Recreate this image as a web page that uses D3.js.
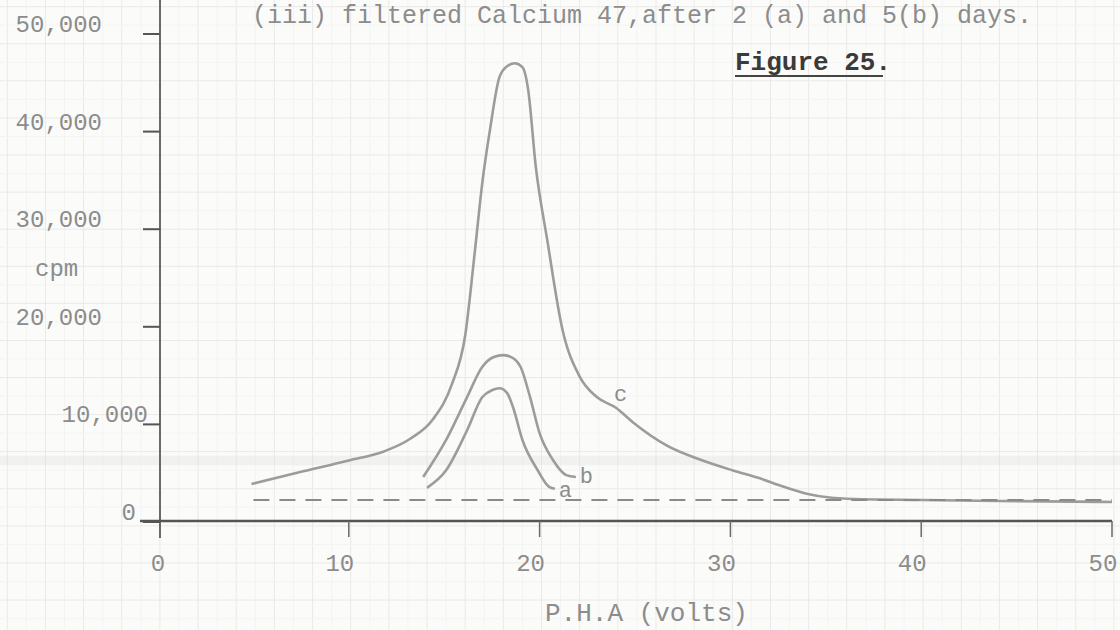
<!DOCTYPE html>
<html>
<head>
<meta charset="utf-8">
<script src="https://cdn.jsdelivr.net/npm/d3@7"></script>
<style>
  body { margin: 0; background: #fbfbfa; }
  svg { display: block; }
  text { font-family: "Liberation Mono", "DejaVu Sans Mono", monospace; fill: #8c8c8c; }
</style>
</head>
<body>
<script>
// values (volts, cpm)
const cVolts = [4.9, 7.4, 10.0, 11.8, 13.2, 14.4, 15.4, 16.1, 16.6, 17.0, 17.4, 17.9, 18.3, 18.7, 19.1, 19.4, 19.8, 20.4, 21.2, 22.1, 23.0, 24.0, 24.9, 26.7, 28.4, 30.1, 31.5, 32.8, 34.0, 35.2, 36.5, 40.0, 44.0, 50.0];
const cCpm   = [3800, 5000, 6200, 7100, 8400, 10400, 14000, 19000, 27500, 34700, 40100, 45500, 46600, 46900, 46500, 44200, 36300, 28800, 19600, 14800, 12700, 11600, 10100, 7700, 6300, 5200, 4400, 3500, 2800, 2400, 2250, 2150, 2050, 1950];

const bVolts = [13.9, 15.1, 16.2, 17.0, 17.6, 18.1, 18.6, 19.0, 19.5, 20.0, 20.7, 21.4, 21.9];
const bCpm   = [4500, 8300, 12700, 15800, 16800, 17000, 16700, 15800, 12700, 9000, 6250, 4700, 4500];

const aVolts = [14.1, 15.1, 16.2, 17.0, 17.5, 17.9, 18.3, 18.6, 19.1, 19.9, 20.5, 20.8];
const aCpm   = [3400, 5200, 9300, 12700, 13400, 13600, 13100, 11700, 8300, 5200, 3500, 3300];

const bgVolts = [5, 50];
const bgCpm = [2150, 2150];

const yTicks = [0, 10000, 20000, 30000, 40000, 50000];
const yTickLabels = ["0", "10,000", "20,000", "30,000", "40,000", "50,000"];
const xTicks = [0, 10, 20, 30, 40, 50];
const xTickLabels = ["0", "10", "20", "30", "40", "50"];

const titleText = "(iii) filtered Calcium 47,after 2 (a) and 5(b) days.";
const figText = "Figure 25.";

const width = 1120, height = 630;
const svg = d3.select("body").append("svg").attr("width", width).attr("height", height);

const x = d3.scaleLinear().domain([0, 50]).range([158, 1112]);
const y = d3.scaleLinear().domain([0, 50000]).range([521, 33]);

// graph paper, faint
const grid = svg.append("g");
const gx = d3.range(-9, 52, 1).map(v => v - 0.9);
const gy = d3.range(-8, 60, 1).map(v => v * 1900 - 500);
grid.selectAll(".vx").data(gx).join("line")
  .attr("x1", d => x(d)).attr("x2", d => x(d)).attr("y1", 0).attr("y2", height)
  .attr("stroke", (d, i) => i % 2 ? "#f4f4f3" : "#e9e9e8").attr("stroke-width", 1);
grid.selectAll(".hy").data(gy).join("line")
  .attr("y1", d => y(d)).attr("y2", d => y(d)).attr("x1", 0).attr("x2", width)
  .attr("stroke", (d, i) => i % 2 ? "#f4f4f3" : "#e9e9e8").attr("stroke-width", 1);
// faint scanner band
svg.append("rect").attr("x", 0).attr("width", width)
  .attr("y", y(6700)).attr("height", y(5700) - y(6700))
  .attr("fill", "#dcdcdc").attr("opacity", 0.3);

// title (sits at the very top edge)
svg.append("text").attr("x", 252).attr("y", 23).attr("font-size", 25).attr("fill", "#999").text(titleText);
svg.append("text").attr("x", 735).attr("y", 70).attr("font-size", 26).attr("font-weight", "bold")
  .style("fill", "#3a3a3a").text(figText);
svg.append("line").attr("x1", 735).attr("x2", 883).attr("y1", 76).attr("y2", 76)
  .attr("stroke", "#444").attr("stroke-width", 2);

// axes
const axisColor = "#6a6a6a";
svg.append("line").attr("x1", 160).attr("x2", 160).attr("y1", 0).attr("y2", 538)
  .attr("stroke", axisColor).attr("stroke-width", 2);
svg.append("line").attr("x1", 140).attr("x2", x(50)).attr("y1", y(0)).attr("y2", y(0))
  .attr("stroke", "#555").attr("stroke-width", 2.5);

svg.selectAll(".yt").data(yTicks).join("line")
  .attr("x1", 143).attr("x2", 160).attr("y1", d => y(d) + 1).attr("y2", d => y(d) + 1)
  .attr("stroke", "#555").attr("stroke-width", 2);
svg.selectAll(".xt").data(xTicks.slice(1)).join("line")
  .attr("x1", d => x(d)).attr("x2", d => x(d)).attr("y1", y(0)).attr("y2", y(0) + 16)
  .attr("stroke", axisColor).attr("stroke-width", 1.5);

// y labels: typed, not quite aligned
const yLabelRight = { "0": 136, "10,000": 148 };
svg.selectAll(".yl").data(yTicks).join("text")
  .attr("x", (d, i) => yLabelRight[yTickLabels[i]] || 102)
  .attr("y", d => y(d) - 1)
  .attr("text-anchor", "end").attr("font-size", 24)
  .text((d, i) => yTickLabels[i]);
svg.append("text").attr("x", 35).attr("y", 276).attr("font-size", 24).text("cpm");

svg.selectAll(".xl").data(xTicks).join("text")
  .attr("x", d => d === 0 ? x(d) : x(d) - 9)
  .attr("y", 571).attr("text-anchor", "middle").attr("font-size", 24)
  .text((d, i) => xTickLabels[i]);
svg.append("text").attr("x", 545).attr("y", 621).attr("font-size", 26).text("P.H.A (volts)");

// curves
const line = d3.line().x(d => x(d[0])).y(d => y(d[1])).curve(d3.curveMonotoneX);
const curveColor = "#9c9c9c";
[[cVolts, cCpm], [bVolts, bCpm], [aVolts, aCpm]].forEach(([vx, vy]) => {
  svg.append("path").datum(d3.zip(vx, vy)).attr("d", line)
    .attr("fill", "none").attr("stroke", curveColor).attr("stroke-width", 2.6);
});
svg.append("path").datum(d3.zip(bgVolts, bgCpm)).attr("d", d3.line().x(d => x(d[0])).y(d => y(d[1])))
  .attr("fill", "none").attr("stroke", "#8a8a8a").attr("stroke-width", 2.2)
  .attr("stroke-dasharray", "16,10");

svg.append("text").attr("x", x(23.9)).attr("y", y(11700) - 6).attr("font-size", 22).text("c");
svg.append("text").attr("x", x(22.1)).attr("y", y(4500) + 6).attr("font-size", 22).text("b");
svg.append("text").attr("x", x(21.0)).attr("y", y(3300) + 8).attr("font-size", 22).text("a");
</script>
</body>
</html>
